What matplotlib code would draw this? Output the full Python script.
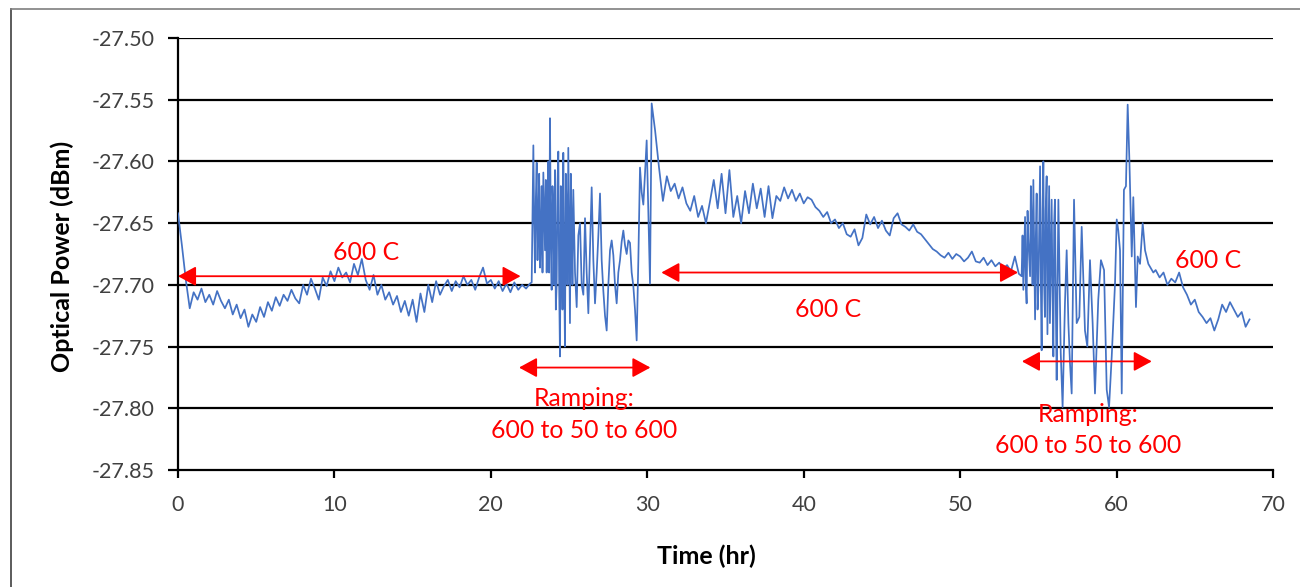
import numpy as np
import matplotlib
matplotlib.use("Agg")
import matplotlib.pyplot as plt
from matplotlib.lines import Line2D
from matplotlib.ticker import FuncFormatter

plt.rcParams["font.family"] = ["Lato", "DejaVu Sans"]

# ---- measured optical power (dBm) vs time (hr) ----
# first 600 C hold, sampled every 0.25 hr
hold1_span = (0.0, 22.5)
hold1_p = [
    -27.642, -27.668, -27.696, -27.719,
    -27.706, -27.712, -27.703, -27.714,
    -27.708, -27.716, -27.705, -27.713,
    -27.719, -27.712, -27.724, -27.716,
    -27.727, -27.720, -27.734, -27.724,
    -27.730, -27.718, -27.726, -27.714,
    -27.721, -27.710, -27.717, -27.708,
    -27.713, -27.704, -27.711, -27.715,
    -27.700, -27.708, -27.695, -27.703,
    -27.712, -27.694, -27.701, -27.689,
    -27.697, -27.686, -27.694, -27.690,
    -27.698, -27.683, -27.692, -27.679,
    -27.696, -27.704, -27.692, -27.708,
    -27.700, -27.712, -27.706, -27.716,
    -27.709, -27.722, -27.713, -27.725,
    -27.712, -27.730, -27.707, -27.722,
    -27.700, -27.714, -27.697, -27.708,
    -27.701, -27.696, -27.705, -27.697,
    -27.702, -27.693, -27.700, -27.696,
    -27.704, -27.694, -27.686, -27.699,
    -27.696, -27.703, -27.697, -27.705,
    -27.699, -27.706, -27.698, -27.704,
    -27.700, -27.703, -27.699,
]

# first thermal cycle 600 -> 50 -> 600 C (fast swings, then slower ones)
ramp1a_span = (22.61, 25.27)
ramp1a_p = [
    -27.698, -27.640, -27.587, -27.650, -27.690, -27.630, -27.601, -27.680,
    -27.650, -27.610, -27.686, -27.660, -27.620, -27.690, -27.609, -27.640,
    -27.672, -27.615, -27.690, -27.650, -27.600, -27.690, -27.565, -27.660,
    -27.704, -27.620, -27.640, -27.700, -27.607, -27.720, -27.700, -27.620,
    -27.592, -27.700, -27.758, -27.620, -27.660, -27.720, -27.593, -27.690,
    -27.750, -27.610, -27.640, -27.700, -27.589, -27.660, -27.731, -27.610,
    -27.650, -27.700, -27.623,
]
ramp1b_span = (25.38, 30.28)
ramp1b_p = [
    -27.690, -27.718, -27.660, -27.650, -27.700, -27.708, -27.646, -27.690,
    -27.723, -27.670, -27.621, -27.680, -27.715, -27.690, -27.660, -27.626,
    -27.680, -27.705, -27.725, -27.737, -27.700, -27.672, -27.664, -27.676,
    -27.700, -27.715, -27.690, -27.680, -27.665, -27.656, -27.668, -27.675,
    -27.664, -27.666, -27.690, -27.701, -27.720, -27.745, -27.680, -27.605,
    -27.625, -27.635, -27.610, -27.583, -27.640, -27.699, -27.553,
]

# second 600 C hold, sampled every 0.25 hr
hold2_span = (30.5, 53.75)
hold2_p = [
    -27.575, -27.605, -27.632, -27.612,
    -27.624, -27.618, -27.630, -27.621,
    -27.634, -27.640, -27.628, -27.645,
    -27.636, -27.650, -27.633, -27.615,
    -27.638, -27.610, -27.642, -27.607,
    -27.645, -27.628, -27.650, -27.624,
    -27.642, -27.618, -27.638, -27.622,
    -27.645, -27.620, -27.646, -27.628,
    -27.632, -27.621, -27.630, -27.623,
    -27.632, -27.626, -27.634, -27.629,
    -27.631, -27.637, -27.640, -27.645,
    -27.641, -27.650, -27.647, -27.654,
    -27.650, -27.659, -27.661, -27.655,
    -27.668, -27.662, -27.643, -27.651,
    -27.645, -27.654, -27.648, -27.656,
    -27.660, -27.646, -27.642, -27.651,
    -27.653, -27.656, -27.651, -27.657,
    -27.659, -27.663, -27.667, -27.671,
    -27.673, -27.676, -27.678, -27.674,
    -27.679, -27.675, -27.677, -27.681,
    -27.678, -27.673, -27.681, -27.682,
    -27.678, -27.684, -27.680, -27.685,
    -27.682, -27.687, -27.684, -27.689,
    -27.677, -27.691,
]

# second thermal cycle 600 -> 50 -> 600 C
ramp2_t = [
    53.93, 53.99, 54.04, 54.15, 54.20, 54.25, 54.31, 54.36, 54.47, 54.52,
    54.57, 54.63, 54.68, 54.79, 54.84, 54.89, 54.95, 55.00, 55.11, 55.16,
    55.21, 55.27, 55.32, 55.37, 55.42, 55.47, 55.53, 55.58, 55.64, 55.69,
    55.74, 55.85, 55.90, 55.96, 56.01, 56.06, 56.12, 56.17, 56.28, 56.43,
    56.55, 56.70, 56.81, 56.92, 57.02, 57.13, 57.28, 57.45, 57.62, 57.77,
    57.98, 58.13, 58.30, 58.47, 58.62, 58.83, 59.00, 59.20, 59.37, 59.52,
    59.69, 59.90, 60.01, 60.11, 60.22, 60.33, 60.47, 60.60, 60.71, 60.82,
    60.97, 61.07, 61.24, 61.35, 61.50, 61.67, 61.82, 62.03, 62.35,
]
ramp2_p = [
    -27.693, -27.660, -27.704, -27.645, -27.700, -27.715, -27.640, -27.663, -27.693, -27.620,
    -27.650, -27.700, -27.615, -27.728, -27.660, -27.626, -27.720, -27.704, -27.604, -27.700,
    -27.753, -27.640, -27.600, -27.700, -27.726, -27.640, -27.612, -27.740, -27.677, -27.620,
    -27.731, -27.631, -27.700, -27.758, -27.650, -27.631, -27.720, -27.777, -27.631, -27.755,
    -27.799, -27.715, -27.672, -27.731, -27.763, -27.788, -27.631, -27.731, -27.726, -27.653,
    -27.737, -27.750, -27.680, -27.731, -27.788, -27.712, -27.680, -27.688, -27.785, -27.799,
    -27.758, -27.699, -27.647, -27.656, -27.672, -27.788, -27.623, -27.620, -27.554, -27.599,
    -27.677, -27.629, -27.718, -27.677, -27.683, -27.650, -27.672, -27.683, -27.690,
]

# final 600 C hold, sampled every 0.25 hr
hold3_span = (62.5, 68.5)
hold3_p = [
    -27.688, -27.694, -27.690, -27.700, -27.695, -27.698, -27.690, -27.702,
    -27.708, -27.716, -27.712, -27.722, -27.726, -27.731, -27.727, -27.737,
    -27.728, -27.716, -27.722, -27.714, -27.720, -27.726, -27.722, -27.734,
    -27.728,
]

x_ticks = [0, 10, 20, 30, 40, 50, 60, 70]
y_ticks = [-27.85, -27.80, -27.75, -27.70, -27.65, -27.60, -27.55, -27.50]


def span_times(span, values):
    return np.linspace(span[0], span[1], len(values))


time_hr = np.concatenate([
    span_times(hold1_span, hold1_p),
    span_times(ramp1a_span, ramp1a_p),
    span_times(ramp1b_span, ramp1b_p),
    span_times(hold2_span, hold2_p),
    np.asarray(ramp2_t),
    span_times(hold3_span, hold3_p),
])
power_dbm = np.concatenate([hold1_p, ramp1a_p, ramp1b_p, hold2_p, ramp2_p, hold3_p])

# ---- figure ----
fig = plt.figure(figsize=(13.0, 5.87), dpi=100)
ax = fig.add_axes([178 / 1300, 1 - 470 / 587, 1095 / 1300, 432 / 587])

ax.plot(time_hr, power_dbm, color="#4472C4", lw=1.25, zorder=3)

ax.set_xlim(x_ticks[0], x_ticks[-1])
ax.set_ylim(y_ticks[0], y_ticks[-1])
ax.set_xticks(x_ticks)
ax.set_yticks(y_ticks)
ax.yaxis.set_major_formatter(FuncFormatter(lambda v, _: f"{v:.2f}"))
ax.xaxis.set_major_formatter(FuncFormatter(lambda v, _: f"{v:.0f}"))

for yv in y_ticks[1:]:
    ax.axhline(yv, color="black", lw=1.6, zorder=1)

for side in ("top", "right"):
    ax.spines[side].set_visible(False)
for side in ("left", "bottom"):
    ax.spines[side].set_color("black")
    ax.spines[side].set_linewidth(1.6)

ax.tick_params(axis="both", direction="out", color="black", width=1.6,
               labelsize=15.5, labelcolor="#404040")
ax.tick_params(axis="y", length=7, pad=10)
ax.tick_params(axis="x", length=6, pad=12)

ax.set_xlabel("Time (hr)", fontsize=18, fontweight="bold")
ax.set_ylabel("Optical Power (dBm)", fontsize=18, fontweight="bold")
ax.xaxis.set_label_coords(0.4825, -0.173)
ax.yaxis.set_label_coords(-0.095, 0.495)

# ---- annotations ----
red = "#FF0000"
arrow = dict(arrowstyle="<|-|>,head_length=1.1,head_width=0.6",
             color=red, lw=1.3, shrinkA=0, shrinkB=0, mutation_scale=10)


def span_arrow(x0, x1, y):
    ax.annotate("", xy=(x1, y), xytext=(x0, y), arrowprops=arrow, zorder=4)


span_arrow(0.0, 21.9, -27.693)
span_arrow(30.9, 53.7, -27.690)
span_arrow(21.8, 30.2, -27.767)
span_arrow(53.95, 62.25, -27.762)

txt = dict(color=red, fontsize=17.8, ha="center", va="center", zorder=5)
ax.text(12.0, -27.674, "600 C", **txt)
ax.text(41.55, -27.720, "600 C", **txt)
ax.text(65.85, -27.680, "600 C", **txt)
ax.text(25.95, -27.792, "Ramping:", **txt)
ax.text(25.95, -27.818, "600 to 50 to 600", **txt)
ax.text(58.17, -27.805, "Ramping:", **txt)
ax.text(58.17, -27.830, "600 to 50 to 600", **txt)

# outer chart frame
fig.add_artist(Line2D([10.5 / 1300, 10.5 / 1300], [0, 1 - 9 / 587],
                      transform=fig.transFigure, color="#404040", lw=1.2))
fig.add_artist(Line2D([10.5 / 1300, 1.0], [1 - 9 / 587, 1 - 9 / 587],
                      transform=fig.transFigure, color="#7F7F7F", lw=1.2))

fig.savefig("out.png", dpi=100)
